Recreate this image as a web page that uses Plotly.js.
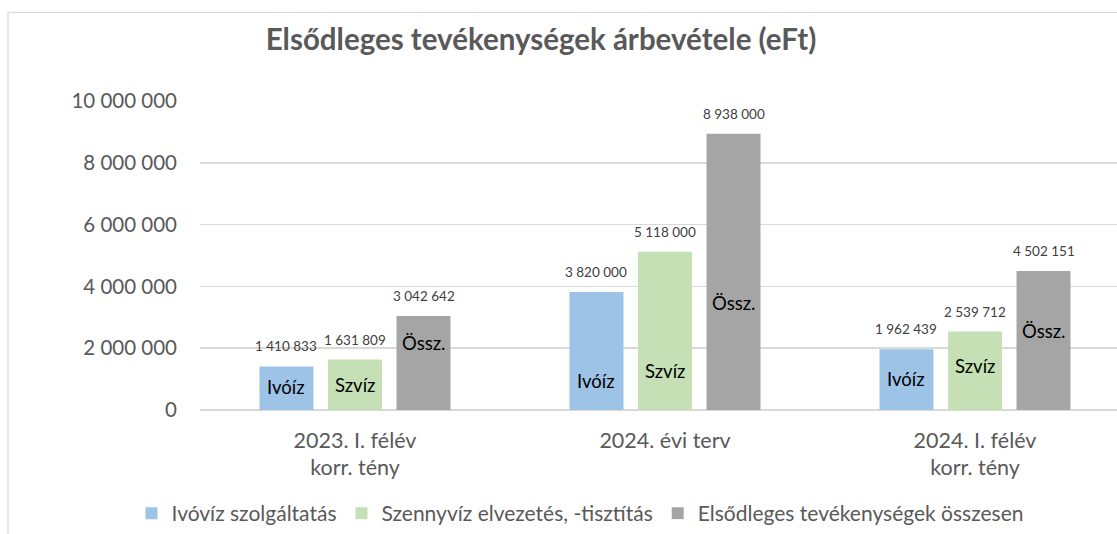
<!DOCTYPE html>
<html>
<head>
<meta charset="utf-8">
<script src="https://cdn.plot.ly/plotly-3.0.1.min.js"></script>
<style>html,body{margin:0;padding:0;background:#fff;}#chart{width:1117px;height:534px;}</style>
</head>
<body>
<div id="chart"></div>
<script>
var categories = ["2023. I. félév<br>korr. tény", "2024. évi terv", "2024. I. félév<br>korr. tény"];
var ivoviz = [1410833, 3820000, 1962439];
var szennyviz = [1631809, 5118000, 2539712];
var osszesen = [3042642, 8938000, 4502151];
var seriesNames = ["Ivóvíz szolgáltatás", "Szennyvíz elvezetés, -tisztítás", "Elsődleges tevékenységek összesen"];
var innerLabels = ["Ivóíz", "Szvíz", "Össz."];
// relative height (share of bar value) of the in-bar labels
var innerLabelShare = [
  [0.53, 0.245, 0.51],
  [0.49, 0.245, 0.56],
  [0.71, 0.386, 0.566]
];
var yTicks = [0, 2000000, 4000000, 6000000, 8000000, 10000000];
var yTickText = ["0", "2 000 000", "4 000 000", "6 000 000", "8 000 000", "10 000 000"];

var colors = ["#9dc3e6", "#c5e0b4", "#a5a5a5"];
var values = [ivoviz, szennyviz, osszesen];
var FONT = "Lato, 'Open Sans', sans-serif";

function fmt(n) {
  return String(n).replace(/\B(?=(\d{3})+(?!\d))/g, " ");
}

var traces = values.map(function (v, i) {
  return {
    type: "bar",
    name: seriesNames[i],
    x: [0, 1, 2],
    y: v,
    marker: {color: colors[i]},
    hoverinfo: "none"
  };
});

var bargap = 0.337;
var slot = (1 - bargap) / 3;
var annotations = [];
for (var s = 0; s < 3; s++) {
  for (var c = 0; c < 3; c++) {
    var xc = c + (s - 1) * slot;
    annotations.push({
      x: xc,
      y: values[s][c] * innerLabelShare[s][c],
      xref: "x", yref: "y",
      text: innerLabels[s],
      showarrow: false,
      xanchor: "center", yanchor: "middle",
      font: {family: FONT, size: 18.5, color: "#000000"}
    });
    annotations.push({
      x: xc,
      y: values[s][c],
      xref: "x", yref: "y",
      text: fmt(values[s][c]),
      showarrow: false,
      xanchor: "center", yanchor: "middle",
      yshift: 20,
      font: {family: FONT, size: 13.5, color: "#404040"}
    });
  }
}

var L = 200, R = 0, T = 101, B = 123, W = 1117, H = 534;
var pw = W - L - R, ph = H - T - B;

var layout = {
  width: W, height: H,
  margin: {l: L, r: R, t: T, b: B, pad: 0},
  paper_bgcolor: "#ffffff",
  plot_bgcolor: "#ffffff",
  barmode: "group",
  bargap: bargap,
  bargroupgap: 0.212,
  showlegend: true,
  title: {
    text: "<b>Elsődleges tevékenységek árbevétele (eFt)</b>",
    font: {family: FONT, size: 29.5, color: "#595959"},
    x: 541 / W, xref: "container", xanchor: "center",
    y: 1 - 40 / H, yref: "container", yanchor: "middle"
  },
  xaxis: {
    range: [-0.5, 2.5 - 13 / 310],
    tickvals: [0, 1, 2],
    ticktext: categories,
    showgrid: false,
    zeroline: false,
    showline: false,
    ticks: "",
    ticklabelstandoff: 15,
    tickfont: {family: FONT, size: 21.5, color: "#595959"},
    fixedrange: true
  },
  yaxis: {
    range: [0, 10000000],
    tickvals: yTicks,
    ticktext: yTickText,
    showgrid: true,
    gridcolor: "#d9d9d9",
    gridwidth: 1.5,
    zeroline: true,
    zerolinecolor: "#d9d9d9",
    zerolinewidth: 1.5,
    showline: false,
    ticks: "",
    ticklabelstandoff: 22,
    tickfont: {family: FONT, size: 20.5, color: "#595959"},
    fixedrange: true
  },
  legend: {
    orientation: "h",
    x: (580 - L) / pw, xanchor: "center",
    y: (T + ph - 515) / ph, yanchor: "middle",
    font: {family: FONT, size: 21, color: "#595959"},
    itemclick: false, itemdoubleclick: false,
    tracegroupgap: 0
  },
  annotations: annotations,
  shapes: [{
    type: "rect", xref: "paper", yref: "paper",
    x0: (8 - L) / pw, x1: (W + 20 - L) / pw,
    y0: (T + ph - (H + 20)) / ph, y1: (T + ph - 12) / ph,
    line: {color: "#d9d9d9", width: 1.2},
    fillcolor: "rgba(0,0,0,0)",
    layer: "below"
  }]
};

Plotly.newPlot("chart", traces, layout, {displayModeBar: false, staticPlot: true});
</script>
</body>
</html>
